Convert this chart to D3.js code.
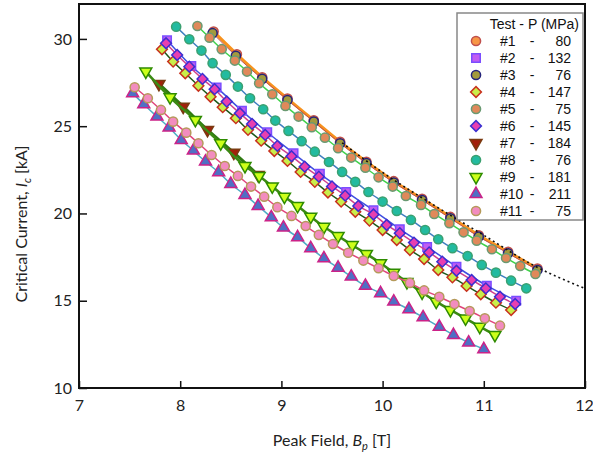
<!DOCTYPE html>
<html>
<head>
<meta charset="utf-8">
<script src="https://cdn.jsdelivr.net/npm/d3@7.9.0/dist/d3.min.js"></script>
<style>
  body { margin: 0; background: #fff; }
  svg { display: block; }
  .tick text { font-family: Lato, "Open Sans", sans-serif; font-size: 16px; fill: #222; }
  .legend text { font-family: "Liberation Sans", Arial, sans-serif; font-size: 14px; fill: #111; }
</style>
</head>
<body>
<svg id="chart" width="593" height="453"></svg>
<script>
// test labels and contact pressures (MPa)
const tests = ["#1", "#2", "#3", "#4", "#5", "#6", "#7", "#8", "#9", "#10", "#11"];
const pressures = [80, 132, 76, 147, 75, 145, 184, 76, 181, 211, 75];

// [peak field B_p (T), critical current I_c (kA)]
const test1 = [[8.33,30.42],[8.56,29.12],[8.81,27.80],[9.06,26.58],[9.32,25.34],[9.58,24.10],[9.84,22.96],
  [10.11,21.85],[10.39,20.84],[10.67,19.80],[10.95,18.75],[11.24,17.80],[11.53,16.84]];
const test2 = [[7.87,29.92],[8.11,28.45],[8.36,27.22],[8.61,25.88],[8.86,24.65],[9.12,23.45],[9.38,22.27],
  [9.64,21.23],[9.91,20.18],[10.17,19.10],[10.44,18.08],[10.73,16.95],[11.03,15.86],[11.32,15.00]];
const test3 = [[8.32,30.33],[8.55,29.03],[8.81,27.71],[9.06,26.50],[9.32,25.26],[9.58,24.02],[9.84,22.88],
  [10.11,21.77],[10.39,20.77],[10.67,19.72],[10.95,18.67],[11.24,17.72],[11.53,16.76]];
const test4 = [[7.82,29.41],[7.93,28.70],[8.05,28.03],[8.18,27.32],[8.30,26.69],[8.42,26.09],[8.55,25.46],
  [8.67,24.79],[8.80,24.17],[8.93,23.58],[9.06,23.01],[9.19,22.38],[9.33,21.81],[9.46,21.20],[9.59,20.68],
  [9.73,20.10],[9.87,19.59],[10.00,19.05],[10.14,18.48],[10.27,17.91],[10.41,17.39],[10.55,16.76],
  [10.69,16.34],[10.83,15.85],[10.97,15.37],[11.12,14.89],[11.27,14.47]];
const test5 = [[8.17,30.74],[8.29,30.07],[8.41,29.41],[8.54,28.76],[8.66,28.13],[8.78,27.46],[8.91,26.83],
  [9.04,26.16],[9.17,25.55],[9.30,24.94],[9.43,24.34],[9.56,23.74],[9.69,23.20],[9.83,22.62],[9.96,22.07],
  [10.10,21.54],[10.23,21.00],[10.38,20.49],[10.51,19.97],[10.66,19.44],[10.80,18.92],[10.93,18.44],
  [11.08,17.95],[11.22,17.45],[11.36,16.99],[11.51,16.53]];
const test6 = [[7.86,29.75],[7.97,29.08],[8.09,28.41],[8.22,27.71],[8.34,27.12],[8.46,26.41],[8.59,25.74],
  [8.71,25.13],[8.84,24.50],[8.96,23.87],[9.10,23.28],[9.23,22.68],[9.37,22.11],[9.50,21.55],[9.63,21.02],
  [9.76,20.43],[9.91,19.94],[10.04,19.34],[10.17,18.87],[10.31,18.33],[10.46,17.77],[10.59,17.24],
  [10.73,16.72],[10.88,16.19],[11.02,15.71],[11.16,15.23],[11.31,14.81]];
const test7 = [[7.79,27.42],[8.03,26.12],[8.27,24.79],[8.53,23.48],[8.77,22.20]];
const test8 = [[7.96,30.70],[8.09,29.98],[8.21,29.33],[8.32,28.61],[8.45,27.94],[8.57,27.27],[8.69,26.60],
  [8.82,25.97],[8.94,25.32],[9.07,24.73],[9.20,24.14],[9.33,23.54],[9.47,22.95],[9.60,22.38],[9.73,21.81],
  [9.86,21.23],[10.00,20.68],[10.14,20.14],[10.28,19.63],[10.42,19.05],[10.55,18.52],[10.69,18.01],
  [10.84,17.56],[10.98,17.05],[11.12,16.61],[11.27,16.15],[11.42,15.71]];
const test9 = [[7.66,28.13],[7.90,26.66],[8.15,25.36],[8.40,24.02],[8.64,22.72],[8.78,22.15],[8.91,21.55],
  [9.03,20.96],[9.16,20.43],[9.29,19.82],[9.42,19.24],[9.56,18.71],[9.70,18.19],[9.84,17.68],[9.98,17.15],
  [10.11,16.61],[10.24,16.07],[10.39,15.47],[10.53,14.95],[10.67,14.47],[10.82,13.99],[10.96,13.51],[11.11,13.04]];
const test10 = [[7.53,26.89],[7.64,26.26],[7.77,25.55],[7.89,24.92],[8.01,24.21],[8.13,23.60],[8.25,22.97],
  [8.38,22.36],[8.50,21.69],[8.64,21.06],[8.77,20.43],[8.90,19.78],[9.02,19.19],[9.16,18.64],[9.29,18.01],
  [9.42,17.43],[9.56,16.89],[9.69,16.38],[9.83,15.85],[9.98,15.43],[10.11,14.95],[10.26,14.51],[10.40,14.05],
  [10.56,13.51],[10.70,13.04],[10.85,12.60],[11.00,12.22]];
const test11 = [[7.55,27.23],[7.68,26.60],[7.81,25.93],[7.93,25.26],[8.06,24.63],[8.18,24.02],[8.31,23.35],
  [8.44,22.72],[8.57,22.15],[8.70,21.54],[8.83,20.96],[8.96,20.36],[9.10,19.86],[9.24,19.28],[9.37,18.77],
  [9.51,18.25],[9.66,17.75],[9.81,17.30],[9.96,16.86],[10.11,16.42],[10.27,16.02],[10.41,15.59],[10.56,15.23],
  [10.71,14.81],[10.86,14.41],[11.01,13.99],[11.16,13.57]];
// dotted extrapolation of the top fit
const fitLine = [[9.60,24.05],[10.00,22.35],[10.50,20.50],[11.00,18.75],[11.50,17.00],[12.00,15.70]];

const xTicks = [7, 8, 9, 10, 11, 12];
const yTicks = [10, 15, 20, 25, 30];

const data = [test1, test2, test3, test4, test5, test6, test7, test8, test9, test10, test11];
const styles = [
  { sym: "circle",   fill: "#f79646", stroke: "#c0504d", line: "#f7921e", lw: 3 },
  { sym: "square",   fill: "#c15cf2", stroke: "#7a4dff", line: "#3f4fe0", lw: 1.5 },
  { sym: "circle",   fill: "#a39a3c", stroke: "#24237a", line: "#c0504d", lw: 1 },
  { sym: "diamond",  fill: "#c9ee4a", stroke: "#c8321e", line: "#1f5a1a", lw: 1.5 },
  { sym: "circle",   fill: "#e0895a", stroke: "#6a9a72", line: "#3fd24a", lw: 1.5 },
  { sym: "diamond",  fill: "#e83fb0", stroke: "#3b2fd0", line: "#d0408c", lw: 1.5 },
  { sym: "triDown",  fill: "#a3200b", stroke: "#7a3a10", line: "#2f7a12", lw: 3 },
  { sym: "circle",   fill: "#22bba0", stroke: "#3aa070", line: "#3f7fc0", lw: 1.5 },
  { sym: "triDown",  fill: "#ccff1a", stroke: "#2e8b00", line: "#3c8a14", lw: 2.6 },
  { sym: "triUp",    fill: "#4f70c4", stroke: "#cc2288", line: "#4bacc6", lw: 1.5 },
  { sym: "circle",   fill: "#f28cbf", stroke: "#b59a5a", line: "#e0457b", lw: 1.5 }
];

const svg = d3.select("#chart");
const x = d3.scaleLinear().domain([7, 12]).range([79, 585]);
const y = d3.scaleLinear().domain([10, 32]).range([388, 4]);

function symbolPath(s) {
  if (s === "circle") return d3.symbol(d3.symbolCircle, 66)();
  if (s === "square") return d3.symbol(d3.symbolSquare, 72)();
  if (s === "diamond") return d3.symbol(d3.symbolSquare, 58)();
  return d3.symbol(d3.symbolTriangle, 62)();
}
function symbolRot(s) {
  if (s === "diamond") return " rotate(45)";
  if (s === "triDown") return " rotate(180)";
  return "";
}

// axes
svg.append("g")
  .attr("transform", "translate(0,388)")
  .call(d3.axisBottom(x).tickValues(xTicks).tickSize(-7).tickPadding(12).tickFormat(d3.format("d")))
  .call(g => g.select(".domain").remove())
  .call(g => g.selectAll(".tick line").attr("stroke", "#111").attr("stroke-width", 1.5))
  .call(g => g.selectAll(".tick text").filter(d => d === 12).attr("dx", -1));
svg.append("g")
  .attr("transform", "translate(79,0)")
  .call(d3.axisLeft(y).tickValues(yTicks).tickSize(-8).tickPadding(7).tickFormat(d3.format("d")))
  .call(g => g.select(".domain").remove())
  .call(g => g.selectAll(".tick line").attr("stroke", "#111").attr("stroke-width", 1.5));

const line = d3.line().x(d => x(d[0])).y(d => y(d[1])).curve(d3.curveMonotoneX);

const plot = svg.append("g");
data.forEach((pts, i) => {
  const st = styles[i];
  plot.append("path")
    .datum(pts)
    .attr("d", line)
    .attr("fill", "none")
    .attr("stroke", st.line)
    .attr("stroke-width", st.lw);
  plot.append("g").selectAll("path")
    .data(pts)
    .join("path")
    .attr("d", symbolPath(st.sym))
    .attr("transform", d => `translate(${x(d[0])},${y(d[1])})` + symbolRot(st.sym))
    .attr("fill", st.fill)
    .attr("stroke", st.stroke)
    .attr("stroke-width", 1.5);
});

plot.append("path")
  .datum(fitLine)
  .attr("d", line)
  .attr("fill", "none")
  .attr("stroke", "#111")
  .attr("stroke-width", 1.6)
  .attr("stroke-dasharray", "2,3");

// frame
svg.append("rect")
  .attr("x", 79).attr("y", 4).attr("width", 506).attr("height", 384)
  .attr("fill", "none").attr("stroke", "#111").attr("stroke-width", 2);

// legend
const lg = svg.append("g").attr("class", "legend");
lg.append("rect")
  .attr("x", 457).attr("y", 13).attr("width", 126).attr("height", 207)
  .attr("fill", "#fff").attr("stroke", "#888").attr("stroke-width", 1.5);
lg.append("text").attr("x", 579).attr("y", 29).attr("text-anchor", "end").text("Test - P (MPa)");
const rows = lg.selectAll("g.row")
  .data(tests.map((t, i) => ({ t, p: pressures[i], st: styles[i] })))
  .join("g")
  .attr("class", "row")
  .attr("transform", (d, i) => `translate(0,${41 + i * 17})`);
rows.append("path")
  .attr("d", d => symbolPath(d.st.sym))
  .attr("transform", d => "translate(476,0)" + symbolRot(d.st.sym))
  .attr("fill", d => d.st.fill)
  .attr("stroke", d => d.st.stroke)
  .attr("stroke-width", 1.5);
rows.append("text").attr("x", 500).attr("y", 5).text(d => d.t);
rows.append("text").attr("x", 532).attr("y", 5).attr("text-anchor", "middle").text("-");
rows.append("text").attr("x", 571).attr("y", 5).attr("text-anchor", "end").text(d => d.p);

// axis titles
const xt = svg.append("text")
  .attr("x", 332).attr("y", 446)
  .attr("text-anchor", "middle")
  .style("font-family", "Lato, 'Open Sans', sans-serif").style("font-size", "16px").attr("fill", "#222");
xt.append("tspan").text("Peak Field, ");
xt.append("tspan").attr("font-style", "italic").text("B");
xt.append("tspan").attr("font-style", "italic").attr("font-size", "11px").attr("dy", 4).text("p");
xt.append("tspan").attr("dy", -4).text(" [T]");

const yt = svg.append("text")
  .attr("transform", "translate(27,224) rotate(-90)")
  .attr("text-anchor", "middle")
  .style("font-family", "Lato, 'Open Sans', sans-serif").style("font-size", "16px").attr("fill", "#222");
yt.append("tspan").text("Critical Current, ");
yt.append("tspan").attr("font-style", "italic").text("I");
yt.append("tspan").attr("font-style", "italic").attr("font-size", "11px").attr("dy", 4).text("c");
yt.append("tspan").attr("dy", -4).text(" [kA]");
</script>
</body>
</html>
